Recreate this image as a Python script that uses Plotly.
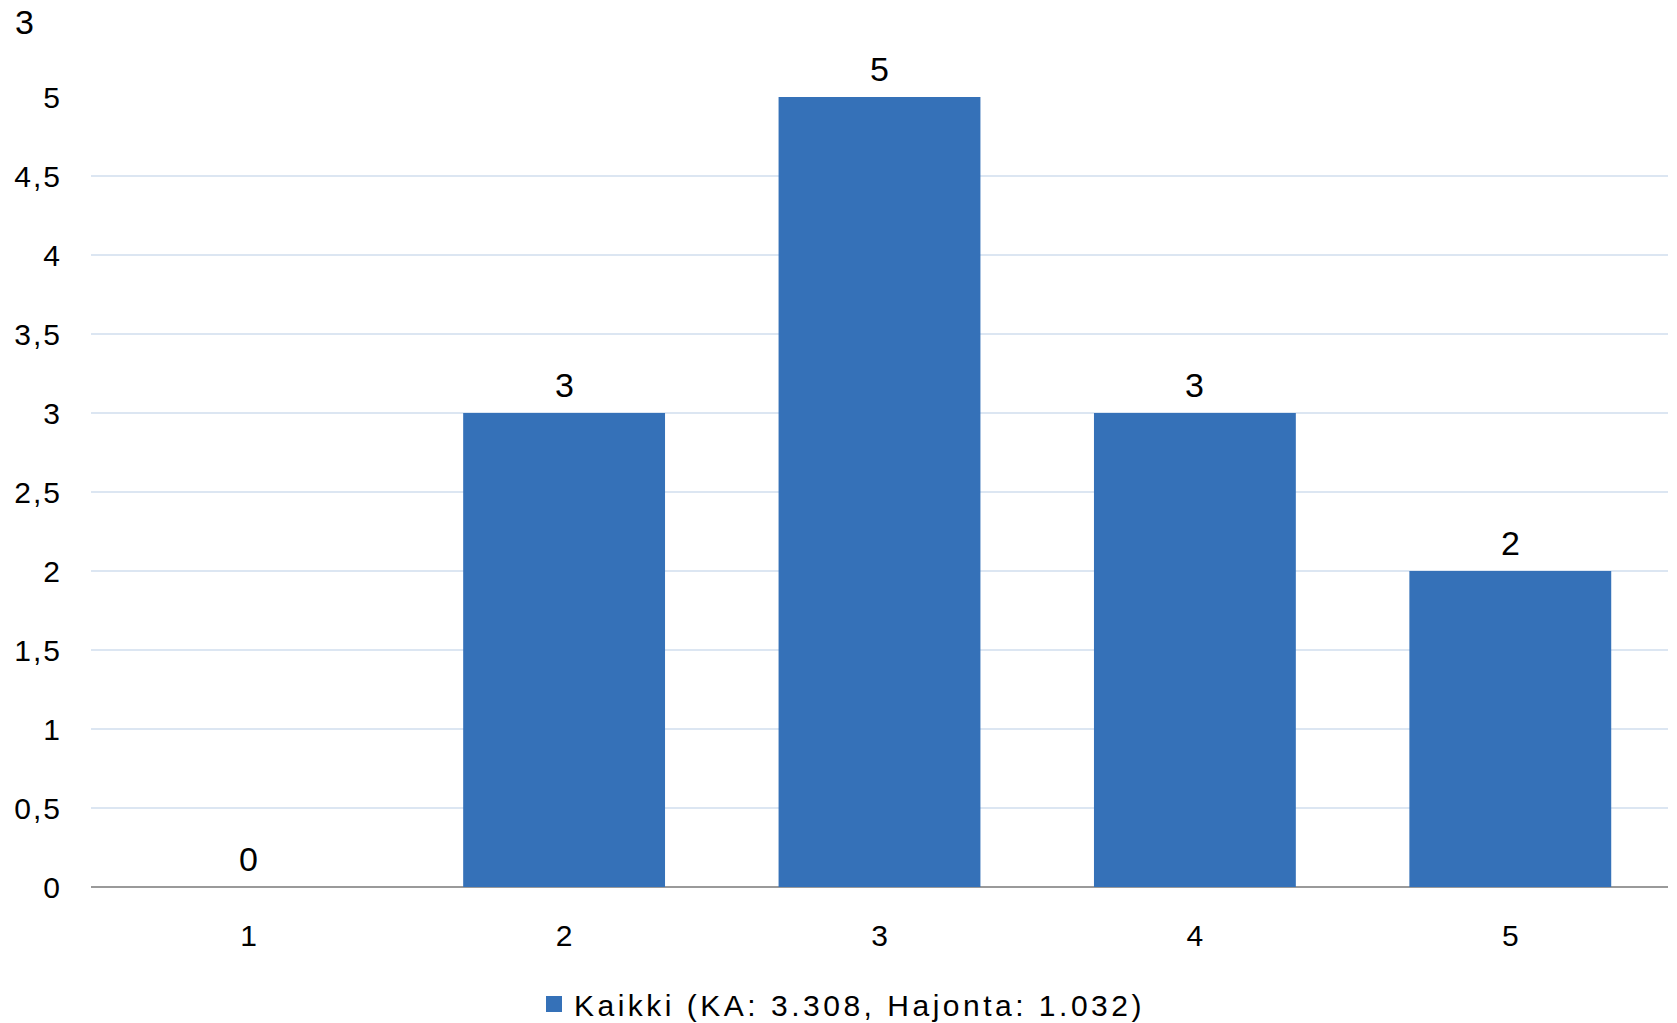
import plotly.graph_objects as go

categories = ["1", "2", "3", "4", "5"]
values = [0, 3, 5, 3, 2]
series_name = "Kaikki (KA: 3.308, Hajonta: 1.032)"
title_text = "3"
y_tick_values = [0, 0.5, 1, 1.5, 2, 2.5, 3, 3.5, 4, 4.5, 5]
y_tick_labels = ["0", "0,5", "1", "1,5", "2", "2,5", "3", "3,5", "4", "4,5", "5"]

FONT = "Liberation Sans, Arial, sans-serif"
BAR_COLOR = "#3571b8"

fig = go.Figure()
fig.add_trace(go.Bar(
    x=categories,
    y=values,
    name=series_name,
    marker=dict(color=BAR_COLOR, line=dict(width=0)),
    cliponaxis=False,
    showlegend=False,
))
# legend entry with a larger square swatch
fig.add_trace(go.Scatter(
    x=[None], y=[None], mode="markers",
    name='<span style="letter-spacing:3.5px">' + series_name + '</span>',
    marker=dict(symbol="square", size=16, color=BAR_COLOR),
    showlegend=True,
))

# value labels above each bar (category index positions on the category axis)
for i, val in enumerate(values):
    fig.add_annotation(x=i, y=val, xref="x", yref="y", text=str(val),
                       showarrow=False, yanchor="middle", yshift=28,
                       font=dict(family=FONT, size=34, color="#000000"))

fig.update_layout(
    width=1677, height=1023,
    margin=dict(l=91, r=9, t=97, b=136, autoexpand=False),
    paper_bgcolor="white", plot_bgcolor="white",
    separators=", ",
    bargap=0.36,
    font=dict(family=FONT, size=30, color="#000000"),
    title=dict(text=title_text, x=15/1677, xanchor="left", xref="container",
               y=1 - 22/1023, yanchor="middle", yref="container",
               font=dict(size=34, color="#000000")),
    showlegend=True,
    legend=dict(orientation="h", x=842/1677, xanchor="center", xref="container",
                y=1 - 1004/1023, yanchor="middle", yref="container",
                font=dict(size=30), itemwidth=30, traceorder="normal"),
    xaxis=dict(type="category", categoryorder="array", categoryarray=categories,
               range=[-0.5, len(categories) - 0.5],
               showgrid=False, ticks="", ticklabelstandoff=28,
               showline=False, zeroline=False, automargin=False),
    yaxis=dict(range=[0, 5], tickmode="array", tickvals=y_tick_values,
               ticktext=['<span style="letter-spacing:2px">' + t + '</span>' for t in y_tick_labels],
               showgrid=True, gridcolor="#dce6f2", gridwidth=2,
               zeroline=True, zerolinecolor="#9a9a9a", zerolinewidth=2,
               ticks="", ticklabelstandoff=28, showline=False, automargin=False),
)

fig.write_html("out.html", config={"displayModeBar": False},
               post_script="document.body.style.margin='0';")
